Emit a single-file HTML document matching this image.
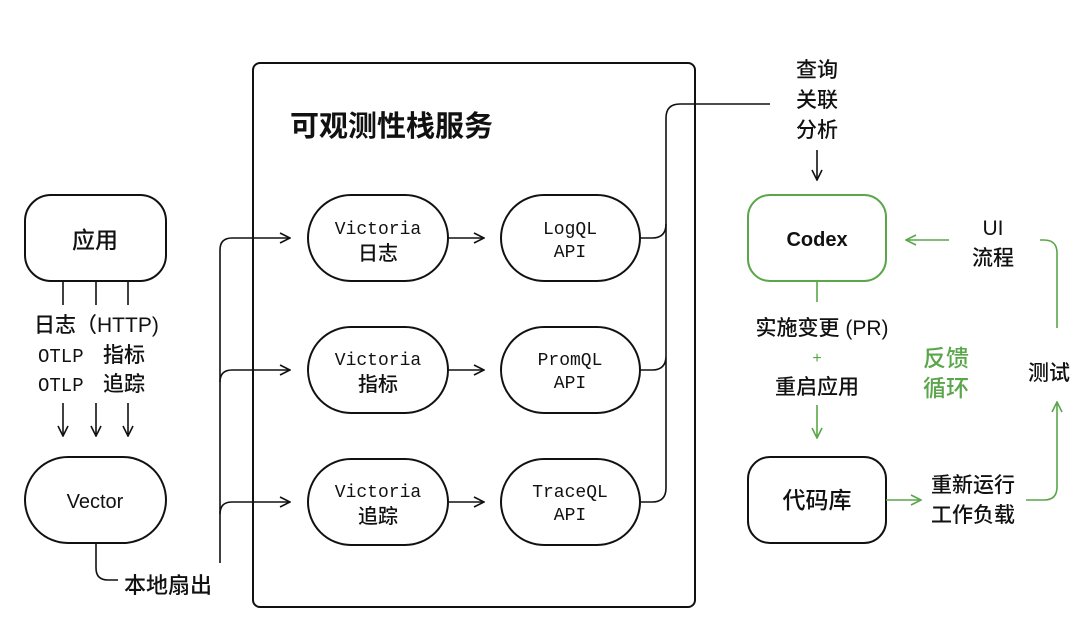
<!DOCTYPE html>
<html><head><meta charset="utf-8"><style>
body{margin:0;background:#fff;}
svg text{font-family:"Liberation Sans","Noto Sans CJK SC",sans-serif;fill:#111;font-weight:500;}
.m{font-family:"Liberation Mono","Noto Sans CJK SC",monospace;font-size:18px;}
.c{font-size:21px;}
.g{fill:#5aa64a;}
</style></head><body>
<svg width="1080" height="632" viewBox="0 0 1080 632" xmlns="http://www.w3.org/2000/svg">
<defs>
<marker id="a" viewBox="0 0 12 12" refX="11" refY="6" markerWidth="12" markerHeight="12" orient="auto" markerUnits="userSpaceOnUse"><path d="M1 1L11 6L1 11" fill="none" stroke="#111" stroke-width="1.6"/></marker>
<marker id="ag" viewBox="0 0 12 12" refX="11" refY="6" markerWidth="12" markerHeight="12" orient="auto" markerUnits="userSpaceOnUse"><path d="M1 1L11 6L1 11" fill="none" stroke="#5aa64a" stroke-width="1.6"/></marker>
</defs>
<g fill="none" stroke="#111" stroke-width="2">
<rect x="253" y="63" width="442" height="544" rx="7"/>
<rect x="25" y="195" width="141" height="86" rx="26"/>
<rect x="25" y="457" width="141" height="86" rx="43"/>
<rect x="308" y="195" width="140" height="86" rx="43"/>
<rect x="308" y="327" width="140" height="86" rx="43"/>
<rect x="308" y="459" width="140" height="86" rx="43"/>
<rect x="501" y="195" width="139" height="86" rx="43"/>
<rect x="501" y="327" width="139" height="86" rx="43"/>
<rect x="501" y="459" width="139" height="86" rx="43"/>
<rect x="748" y="457" width="138" height="86" rx="22"/>
</g>
<g fill="none" stroke="#111" stroke-width="1.6">
<path d="M63 281V305M96 281V305M128 281V305"/>
<path d="M63 403V436" marker-end="url(#a)"/>
<path d="M96 403V436" marker-end="url(#a)"/>
<path d="M128 403V436" marker-end="url(#a)"/>
<path d="M96 543V568Q96 580 108 580H118"/>
<path d="M220 563V250Q220 238 232 238H290" marker-end="url(#a)"/>
<path d="M220 382Q220 370 232 370H290" marker-end="url(#a)"/>
<path d="M220 514Q220 502 232 502H290" marker-end="url(#a)"/>
<path d="M448 238H484" marker-end="url(#a)"/>
<path d="M448 370H484" marker-end="url(#a)"/>
<path d="M448 502H484" marker-end="url(#a)"/>
<path d="M640 238H652Q666 238 666 224V118Q666 104 680 104H770"/>
<path d="M640 370H652Q666 370 666 356M640 502H652Q666 502 666 488V224"/>
<path d="M817 150V180" marker-end="url(#a)"/>
</g>
<rect x="748" y="195" width="138" height="86" rx="22" fill="none" stroke="#5aa64a" stroke-width="2"/>
<g fill="none" stroke="#5aa64a" stroke-width="1.6">
<path d="M817 281V302"/>
<path d="M817 405V438" marker-end="url(#ag)"/>
<path d="M886 500H921" marker-end="url(#ag)"/>
<path d="M1026 500H1044Q1057 500 1057 487V402" marker-end="url(#ag)"/>
<path d="M1057 328V253Q1057 240 1044 240H1040"/>
<path d="M949 240H906" marker-end="url(#ag)"/>
</g>
<text x="290" y="136" font-size="29" style="font-weight:bold">可观测性栈服务</text>
<text x="95" y="248" text-anchor="middle" font-size="23">应用</text>
<text x="95" y="508" text-anchor="middle" font-size="20">Vector</text>
<text x="34" y="332" class="c">日志（HTTP)</text>
<text x="38" y="362" class="m" style="font-size:19px">OTLP</text><text x="103" y="362" class="c">指标</text>
<text x="38" y="391" class="m" style="font-size:19px">OTLP</text><text x="103" y="391" class="c">追踪</text>
<text x="124" y="593" font-size="22">本地扇出</text>
<g text-anchor="middle">
<text x="378" y="234" class="m">Victoria</text><text x="378" y="260" font-size="20">日志</text>
<text x="378" y="365" class="m">Victoria</text><text x="378" y="391" font-size="20">指标</text>
<text x="378" y="497" class="m">Victoria</text><text x="378" y="523" font-size="20">追踪</text>
<text x="570" y="234" class="m">LogQL</text><text x="570" y="257" class="m">API</text>
<text x="570" y="365" class="m">PromQL</text><text x="570" y="388" class="m">API</text>
<text x="570" y="497" class="m">TraceQL</text><text x="570" y="520" class="m">API</text>
</g>
<g text-anchor="middle" class="c">
<text x="817" y="77">查询</text><text x="817" y="107">关联</text><text x="817" y="137">分析</text>
<text x="817" y="246" font-size="20" style="font-weight:bold">Codex</text>
<text x="822" y="335">实施变更 (PR)</text>
<text x="817" y="363" class="g" font-size="16">+</text>
<text x="817" y="394">重启应用</text>
<text x="817" y="508" font-size="23">代码库</text>
<text x="973" y="492">重新运行</text><text x="973" y="522">工作负载</text>
<text x="946" y="366" class="g" font-size="23">反馈</text><text x="946" y="396" class="g" font-size="23">循环</text>
<text x="1049" y="380">测试</text>
<text x="993" y="235">UI</text><text x="993" y="265">流程</text>
</g>
</svg>
</body></html>
